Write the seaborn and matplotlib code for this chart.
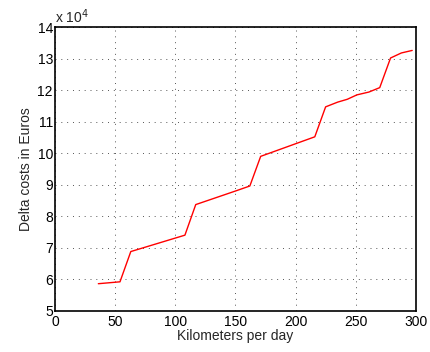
import numpy as np
import pandas as pd
import seaborn as sns
import matplotlib
matplotlib.use("Agg")
import matplotlib.pyplot as plt

# kink points of the curve (km per day, cost in units of 1e4 EUR)
km_per_day = [36, 54, 63, 108, 117, 150, 162, 171, 216, 225, 235, 243, 251, 261, 270, 279, 288, 297]
delta_cost = [5.86, 5.92, 6.88, 7.40, 8.37, 8.80, 8.96, 9.90, 10.52, 11.47, 11.62, 11.71, 11.85, 11.94, 12.08, 13.02, 13.18, 13.26]

x_ticks = [0, 50, 100, 150, 200, 250, 300]
y_ticks = [5, 6, 7, 8, 9, 10, 11, 12, 13, 14]

sns.set_style("white")
plt.rcParams["font.family"] = ["Liberation Sans", "DejaVu Sans"]

df = pd.DataFrame({"km": km_per_day, "cost": delta_cost})

fig = plt.figure(figsize=(4.3, 3.52), dpi=100)
ax = fig.add_axes([0.128, 0.117, 0.839, 0.806])
sns.lineplot(data=df, x="km", y="cost", color="red", linewidth=1.0, ax=ax)

ax.set_xlim(0, 300)
ax.set_ylim(5, 14)
ax.set_xticks(x_ticks)
ax.set_yticks(y_ticks)
ax.grid(True, linestyle=(0, (1, 5)), color="#555555", linewidth=0.7)
ax.tick_params(direction="in", length=3, labelsize=10, colors="black", width=0.8)
ax.tick_params(axis="y", pad=1.5)
ax.tick_params(axis="x", pad=3)
for s in ax.spines.values():
    s.set_visible(True)
    s.set_color("black")
    s.set_linewidth(1.2)

ax.set_xlabel("Kilometers per day", fontsize=10, labelpad=0)
ax.set_ylabel("Delta costs in Euros", fontsize=10, labelpad=3)
ax.text(0.0, 1.005, r"x 10$^{4}$", transform=ax.transAxes, fontsize=10, ha="left", va="bottom")

fig.savefig("out.png", dpi=100)
